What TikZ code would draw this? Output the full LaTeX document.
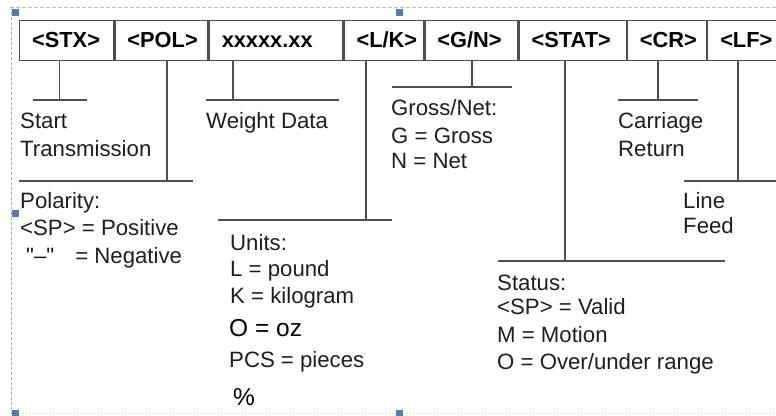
\documentclass[tikz,border=0pt]{standalone}
\usepackage{fontspec}
\setmainfont{Liberation Sans}
\newfontfamily\rawsans[Ligatures=TeXOff]{Liberation Sans}
\begin{document}
\begin{tikzpicture}[x=1pt,y=-1pt,
  every node/.style={inner sep=0pt, font=\fontsize{22.2}{25}\selectfont, text=txt},
  cell/.style={draw=ln, line width=1.3pt, anchor=north west, minimum height=40.5pt,
    inner xsep=12.5pt, inner ysep=0pt, align=left, text height=15.5pt, text depth=2pt,
    font=\fontsize{21.8}{24}\selectfont\bfseries, text=black},
  lbl/.style={anchor=base west},
  big/.style={anchor=base west, text=black, font=\fontsize{24.5}{27}\selectfont},
  conn/.style={draw=ln, line width=1.3pt},
  frameh/.style={fill=hcol, draw=none, minimum size=7pt, inner sep=0pt}
]
\definecolor{ln}{HTML}{4F4F4F}
\definecolor{txt}{HTML}{1E1E1E}
\definecolor{hcol}{HTML}{5A79A3}
\definecolor{dashy}{HTML}{C9CB3A}
\definecolor{dashb}{HTML}{9AB0CC}
\useasboundingbox (0,0) rectangle (776,415);
\clip (0,0) rectangle (776,415);

% selection frame of the editor
\coordinate (ftl) at (10,7);
\coordinate (ftr) at (776,7);
\coordinate (fbl) at (11,413);
\coordinate (fbr) at (776,413);
\draw[dashy, line width=1pt, dash pattern=on 4pt off 2pt] (ftl) -- (ftr);
\draw[dashb, line width=1pt, dash pattern=on 3pt off 2pt] (11,7) -- (fbl);
\draw[dashb!60, line width=0.8pt, dash pattern=on 1pt off 2pt] (fbl) -- (fbr);
\node[frameh] (h1) at (15,12.5) {};
\node[frameh] (h2) at (399,12.5) {};
\node[frameh] (h3) at (15,213.5) {};
\node[frameh] (h4) at (15,413) {};
\node[frameh] (h5) at (399,413) {};

% header cells
\node[cell, minimum width=94pt, text width=69pt] (stx) at (19,19.5) {<STX>};
\node[cell, minimum width=93pt, text width=68pt] (pol) at (stx.north east) {<POL>};
\node[cell, minimum width=133.5pt, text width=108.5pt] (wd) at (pol.north east) {xxxxx.xx};
\node[cell, minimum width=79.5pt, text width=54.5pt] (lk) at (wd.north east) {<L/K>};
\node[cell, minimum width=93pt, text width=68pt] (gn) at (lk.north east) {<G/N>};
\node[cell, minimum width=107pt, text width=82pt] (stat) at (gn.north east) {<STAT>};
\node[cell, minimum width=79pt, text width=54pt] (cr) at (stat.north east) {<CR>};
\node[cell, minimum width=110pt, text width=85pt] (lf) at (cr.north east) {<LF>};

% bars
\coordinate (b1) at (59.5,100);  \coordinate (b1l) at (33,100);  \coordinate (b1r) at (87,100);
\coordinate (b2) at (167,181);   \coordinate (b2l) at (19,181);  \coordinate (b2r) at (193,181);
\coordinate (b3) at (233,100);   \coordinate (b3l) at (206,100); \coordinate (b3r) at (339,100);
\coordinate (b4) at (366,220);   \coordinate (b4l) at (218,220); \coordinate (b4r) at (392,220);
\coordinate (b5) at (472,87);    \coordinate (b5l) at (392,87);  \coordinate (b5r) at (512,87);
\coordinate (b6) at (565,261);   \coordinate (b6l) at (498,261); \coordinate (b6r) at (725,261);
\coordinate (b7) at (658,100);   \coordinate (b7l) at (618,100); \coordinate (b7r) at (698,100);
\coordinate (b8) at (738,181);   \coordinate (b8l) at (684,181); \coordinate (b8r) at (780,181);

\draw[conn] (stx.south -| b1) -- (b1);  \draw[conn] (b1l) -- (b1r);
\draw[conn] (pol.south -| b2) -- (b2);  \draw[conn] (b2l) -- (b2r);
\draw[conn] (wd.south -| b3) -- (b3);   \draw[conn] (b3l) -- (b3r);
\draw[conn] (lk.south -| b4) -- (b4);   \draw[conn] (b4l) -- (b4r);
\draw[conn] (gn.south -| b5) -- (b5);   \draw[conn] (b5l) -- (b5r);
\draw[conn] (stat.south -| b6) -- (b6); \draw[conn] (b6l) -- (b6r);
\draw[conn] (cr.south -| b7) -- (b7);   \draw[conn] (b7l) -- (b7r);
\draw[conn] (lf.south -| b8) -- (b8);   \draw[conn] (b8l) -- (b8r);

% labels
\node[lbl] (t1a) at (20,128) {Start};
\node[lbl] (t1b) at (20,156) {Transmission};
\node[lbl] (t3) at (206,128) {Weight Data};
\node[lbl] (t5a) at (391,115) {Gross/Net:};
\node[lbl] (t5b) at (391,143) {G = Gross};
\node[lbl] (t5c) at (391,168) {N = Net};
\node[lbl] (t7a) at (618,128) {Carriage};
\node[lbl] (t7b) at (618,156) {Return};
\node[lbl] (t2a) at (20,208) {Polarity:};
\node[lbl] (t2b) at (20,235) {<SP> = Positive};
\node[lbl] (t2c) at (26,263) {{\rawsans "–"}\hspace{21pt}= Negative};
\node[lbl] (t8a) at (683,208) {Line};
\node[lbl] (t8b) at (683,233) {Feed};
\node[lbl] (t4a) at (230,250) {Units:};
\node[lbl] (t4b) at (230,276) {L = pound};
\node[lbl] (t4c) at (230,303) {K = kilogram};
\node[big] (t4d) at (229,336) {O = oz};
\node[lbl] (t4e) at (229,367) {PCS = pieces};
\node[big] (t4f) at (233,405) {\%};
\node[lbl] (t6a) at (497,290) {Status:};
\node[lbl] (t6b) at (497,314) {<SP> = Valid};
\node[lbl] (t6c) at (497,342) {M = Motion};
\node[lbl] (t6d) at (497,369) {O = Over/under range};
\end{tikzpicture}
\end{document}
